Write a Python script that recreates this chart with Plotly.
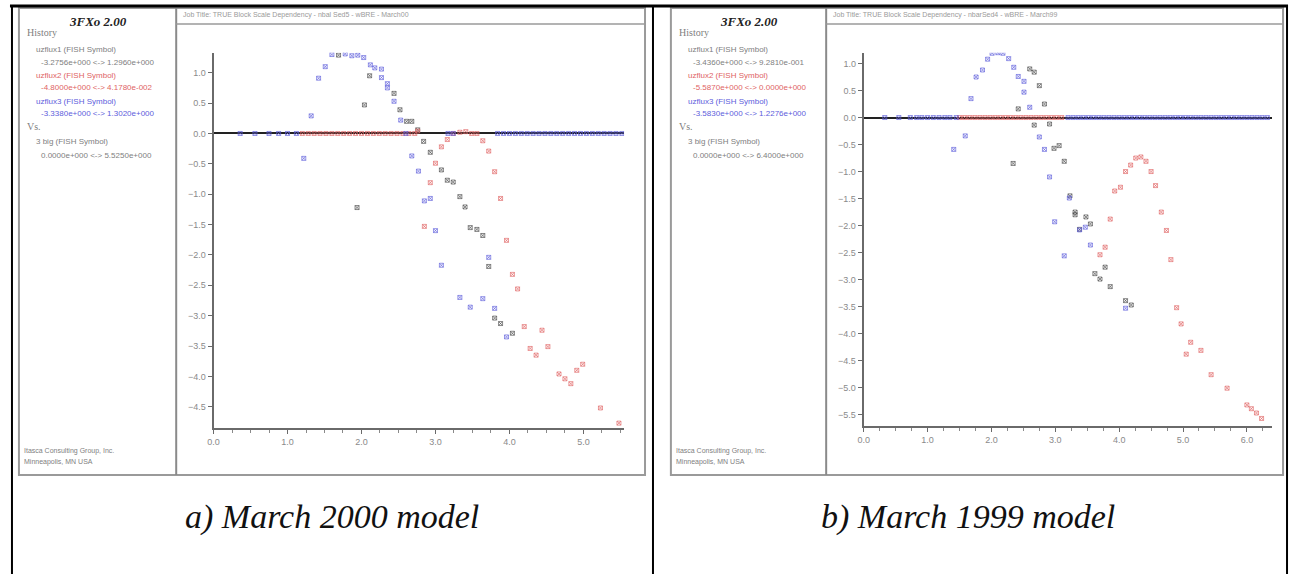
import plotly.graph_objects as go

W, H = 1292, 574

# ---------------- data: panel a) March 2000 model ----------------
a_flux1_x = [1.69, 1.94, 2.04, 2.11, 2.44, 2.52, 2.61, 2.68, 2.76, 2.84, 2.93, 3.08, 3.16, 3.24,
             3.33, 3.40, 3.47, 3.56, 3.64, 3.72, 3.80, 3.88, 4.04]
a_flux1_y = [1.29, -1.22, 0.47, 0.95, 0.66, 0.39, 0.20, 0.20, 0.06, -0.13, -0.31, -0.60, -0.77, -0.80,
             -1.04, -1.21, -1.55, -1.58, -1.68, -2.19, -3.04, -3.13, -3.29]

a_flux2_x = [1.20, 1.28, 1.36, 1.44, 1.52, 1.60, 1.68, 1.76, 1.84, 1.92, 2.00, 2.08, 2.16, 2.24,
             2.32, 2.40, 2.48, 2.56, 2.64, 2.72, 2.76, 2.85, 2.93, 3.00, 3.08, 3.16, 3.24, 3.33,
             3.41, 3.49, 3.56, 3.64, 3.72, 3.80, 3.88, 3.96, 4.04, 4.11, 4.20, 4.28, 4.36, 4.44,
             4.52, 4.67, 4.75, 4.83, 4.91, 4.99, 5.23, 5.48]
a_flux2_y = [0.0, 0.0, 0.0, 0.0, 0.0, 0.0, 0.0, 0.0, 0.0, 0.0, 0.0, 0.0, 0.0, 0.0,
             0.0, 0.0, 0.0, 0.0, 0.0, 0.0, 0.04, -1.53, -0.81, -0.49, -0.22, -0.10, 0.0, 0.02,
             0.03, 0.0, 0.0, -0.12, -0.29, -0.63, -1.07, -1.76, -2.32, -2.56, -3.18, -3.54, -3.65, -3.24,
             -3.51, -3.96, -4.04, -4.12, -3.90, -3.80, -4.52, -4.77]

a_flux3_x = [0.36, 0.56, 0.75, 0.88, 1.00, 1.12, 1.22, 1.32, 1.42, 1.51, 1.60, 1.78, 1.87, 1.95,
             2.03, 2.12, 2.18, 2.27, 2.27, 2.35, 2.35, 2.44, 2.53, 2.60, 2.68, 2.77, 2.85, 2.93,
             3.00, 3.08, 3.17, 3.24, 3.33, 3.47, 3.64, 3.72, 3.80, 3.96,
             3.84, 3.92, 4.00, 4.08, 4.16, 4.24, 4.32, 4.40, 4.48, 4.56, 4.64, 4.72, 4.80, 4.88,
             4.96, 5.04, 5.12, 5.20, 5.28, 5.36, 5.44, 5.52]
a_flux3_y = [0.0, 0.0, 0.0, 0.0, 0.0, 0.0, -0.41, 0.29, 0.91, 1.10, 1.30, 1.31, 1.28, 1.29,
             1.25, 1.13, 1.08, 1.06, 0.92, 0.82, 0.75, 0.53, 0.22, 0.0, -0.37, -0.62, -1.11, -1.07,
             -1.60, -2.17, 0.0, 0.0, -2.70, -2.86, -2.72, -2.04, -2.88, -3.35,
             0.0, 0.0, 0.0, 0.0, 0.0, 0.0, 0.0, 0.0, 0.0, 0.0, 0.0, 0.0, 0.0, 0.0,
             0.0, 0.0, 0.0, 0.0, 0.0, 0.0, 0.0, 0.0]

# ---------------- data: panel b) March 1999 model ----------------
b_flux1_x = [2.34, 2.42, 2.60, 2.67, 2.67, 2.75, 2.83, 2.91, 2.98, 3.06, 3.14, 3.23, 3.31, 3.31,
             3.38, 3.48, 3.55, 3.62, 3.70, 3.78, 3.86, 4.10, 4.19]
b_flux1_y = [-0.85, 0.16, 0.90, 0.84, -0.14, 0.59, 0.25, -0.12, -0.57, -0.52, -0.81, -1.45, -1.75, -1.80,
             -2.07, -1.84, -1.97, -2.89, -2.99, -2.77, -3.13, -3.39, -3.47]

b_flux2_x = [1.50, 1.58, 1.66, 1.74, 1.82, 1.90, 1.98, 2.06, 2.14, 2.22, 2.30, 2.38, 2.46, 2.54,
             2.62, 2.70, 2.78, 2.86, 2.94, 3.02, 3.10,
             3.70, 3.78, 3.86, 3.93, 4.02, 4.10, 4.18, 4.26, 4.34, 4.42, 4.50, 4.57, 4.66, 4.74,
             4.81, 4.90, 4.97, 5.05, 5.12, 5.28, 5.44, 5.69, 6.00, 6.07, 6.15, 6.23]
b_flux2_y = [0.0, 0.0, 0.0, 0.0, 0.0, 0.0, 0.0, 0.0, 0.0, 0.0, 0.0, 0.0, 0.0, 0.0,
             0.0, 0.0, 0.0, 0.0, 0.0, 0.0, 0.0,
             -2.54, -2.40, -1.88, -1.36, -1.29, -1.00, -0.88, -0.75, -0.73, -0.81, -1.00, -1.26, -1.75, -2.09,
             -2.63, -3.52, -3.82, -4.38, -4.16, -4.31, -4.76, -5.01, -5.32, -5.39, -5.47, -5.57]

b_flux3_x = [0.33, 0.55, 0.73, 0.83, 0.91, 1.00, 1.09, 1.18, 1.27, 1.35, 1.45, 1.41, 1.59, 1.68,
             1.76, 1.86, 1.94, 2.01, 2.10, 2.18, 2.27, 2.35, 2.42, 2.51, 2.51, 2.60, 2.75, 2.83,
             2.91, 2.99, 3.14, 3.22, 3.38, 3.47, 3.55, 4.10,
             3.20, 3.28, 3.36, 3.44, 3.52, 3.60, 3.68, 3.76, 3.84, 3.92, 4.00, 4.08, 4.16,
             4.24, 4.32, 4.40, 4.48, 4.56, 4.64, 4.72, 4.80, 4.88, 4.96, 5.04, 5.12, 5.20,
             5.28, 5.36, 5.44, 5.52, 5.60, 5.68, 5.76, 5.84, 5.92, 6.00, 6.08, 6.16, 6.24, 6.32]
b_flux3_y = [0.0, 0.0, 0.0, 0.0, 0.0, 0.0, 0.0, 0.0, 0.0, 0.0, 0.0, -0.59, -0.34, 0.35,
             0.75, 0.88, 1.08, 1.19, 1.20, 1.19, 1.09, 0.93, 0.76, 0.67, 0.47, 0.19, -0.36, -0.59,
             -1.10, -1.93, -2.56, -1.49, -2.08, -2.03, -2.36, -3.53,
             0.0, 0.0, 0.0, 0.0, 0.0, 0.0, 0.0, 0.0, 0.0, 0.0, 0.0, 0.0, 0.0,
             0.0, 0.0, 0.0, 0.0, 0.0, 0.0, 0.0, 0.0, 0.0, 0.0, 0.0, 0.0, 0.0,
             0.0, 0.0, 0.0, 0.0, 0.0, 0.0, 0.0, 0.0, 0.0, 0.0, 0.0, 0.0, 0.0, 0.0]

# sidebar legend text for each panel
a_ranges = ["-3.2756e+000 <-> 1.2960e+000", "-4.8000e+000 <-> 4.1780e-002",
            "-3.3380e+000 <-> 1.3020e+000", "0.0000e+000 <-> 5.5250e+000"]
b_ranges = ["-3.4360e+000 <-> 9.2810e-001", "-5.5870e+000 <-> 0.0000e+000",
            "-3.5830e+000 <-> 1.2276e+000", "0.0000e+000 <-> 6.4000e+000"]
series_names = ["uzflux1 (FISH Symbol)", "uzflux2 (FISH Symbol)", "uzflux3 (FISH Symbol)",
                "3 big (FISH Symbol)"]
a_title = "Job Title: TRUE Block Scale Dependency - nbal Sed5 - wBRE - March00"
b_title = "Job Title: TRUE Block Scale Dependency - nbarSed4 - wBRE - March99"
captions = ["a) March 2000 model", "b) March 1999 model"]

C_BLACK, C_RED, C_BLUE = "#4a4a4a", "#e06464", "#6060dc"
TXT_GRAY = "#808080"


def fx(px):
    return px / W


def fy(py):
    return 1 - py / H


fig = go.Figure()

# panel geometry (pixels): frame left, sidebar divider, plot x0/x1, plot y0/y1, frame right
panels = [
    dict(left=13, side=171, x0=208.5, x1=621, y0=52.7, y1=428, right=642,
         xr=[0, 5.55], yr=[-4.85, 1.33], ydt=0.5, ax="x", ay="y",
         data=[(a_flux1_x, a_flux1_y, C_BLACK), (a_flux2_x, a_flux2_y, C_RED),
               (a_flux3_x, a_flux3_y, C_BLUE)],
         ranges=a_ranges, title=a_title, cap=captions[0], capx=328),
    dict(left=668, side=824, x0=861.7, x1=1271.7, y0=52.7, y1=426, right=1283,
         xr=[0, 6.39], yr=[-5.71, 1.2], ydt=0.5, ax="x2", ay="y2",
         data=[(b_flux1_x, b_flux1_y, C_BLACK), (b_flux2_x, b_flux2_y, C_RED),
               (b_flux3_x, b_flux3_y, C_BLUE)],
         ranges=b_ranges, title=b_title, cap=captions[1], capx=966),
]

shapes = []
annotations = []
layout_axes = {}
PANEL_BOTTOM = 475

for i, p in enumerate(panels):
    xa = "xaxis" if i == 0 else "xaxis2"
    ya = "yaxis" if i == 0 else "yaxis2"
    layout_axes[xa] = dict(
        domain=[fx(p["x0"]), fx(p["x1"])], range=p["xr"], anchor=p["ay"],
        showline=True, linecolor="#6a6a6a", linewidth=2, showgrid=False, zeroline=False,
        ticks="outside", ticklen=4, tickcolor="#6a6a6a", dtick=1, tick0=0, tickformat=".1f",
        tickfont=dict(family="Liberation Sans", size=9, color="#8a8a8a"),
        minor=dict(dtick=0.25, tick0=0, ticks="outside", ticklen=3, tickcolor="#8a8a8a"),
    )
    layout_axes[ya] = dict(
        domain=[fy(p["y1"]), fy(p["y0"])], range=p["yr"], anchor=p["ax"],
        showline=True, linecolor="#6a6a6a", linewidth=2, showgrid=False,
        zeroline=True, zerolinecolor="#222222", zerolinewidth=1.5,
        ticks="outside", ticklen=4, tickcolor="#6a6a6a", dtick=p["ydt"], tick0=0,
        tickformat=".1f", tickfont=dict(family="Liberation Sans", size=9, color="#8a8a8a"),
    )
    for xs, ys, col in p["data"]:
        fig.add_trace(go.Scatter(
            x=xs, y=ys, mode="markers", xaxis=p["ax"], yaxis=p["ay"], showlegend=False,
            marker=dict(symbol="square-x-open", size=4, color=col, opacity=0.65,
                        line=dict(width=1, color=col)),
        ))

    # window frame, sidebar divider and header rule
    shapes.append(dict(type="rect", xref="paper", yref="paper",
                       x0=fx(p["left"]), x1=fx(p["right"]), y0=fy(PANEL_BOTTOM), y1=fy(8),
                       line=dict(color="#9a9a9a", width=2)))
    shapes.append(dict(type="line", xref="paper", yref="paper",
                       x0=fx(p["side"]), x1=fx(p["side"]), y0=fy(PANEL_BOTTOM), y1=fy(8),
                       line=dict(color="#8a8a8a", width=2)))
    shapes.append(dict(type="line", xref="paper", yref="paper",
                       x0=fx(p["side"]), x1=fx(p["right"]), y0=fy(24), y1=fy(24),
                       line=dict(color="#9a9a9a", width=1.5)))

    L = p["left"]
    cx = (p["left"] + p["side"]) / 2

    def txt(x, y, s, color=TXT_GRAY, size=8, family="Liberation Sans", anchor="left"):
        annotations.append(dict(xref="paper", yref="paper", x=fx(x), y=fy(y), text=s,
                                showarrow=False, xanchor=anchor, yanchor="middle",
                                font=dict(family=family, size=size, color=color)))

    txt(cx, 21, "<b><i>3FXo 2.00</i></b>", color="#222222", size=13,
        family="Liberation Serif", anchor="center")
    txt(L + 6, 33, "History", size=10, family="Liberation Serif")
    cols = [TXT_GRAY, C_RED, C_BLUE]
    for k in range(3):
        txt(L + 15, 50 + 25.5 * k, series_names[k], color=cols[k])
        txt(L + 20, 62.5 + 25.5 * k, p["ranges"][k], color=cols[k])
    txt(L + 6, 127, "Vs.", size=10, family="Liberation Serif")
    txt(L + 15, 142, series_names[3])
    txt(L + 20, 155, p["ranges"][3])
    txt(L + 3, 451, "Itasca Consulting Group, Inc.", size=7)
    txt(L + 3, 462, "Minneapolis, MN USA", size=7)
    txt(p["side"] + 5, 15, p["title"], size=7, color="#9a9a9a")

    # caption under each panel
    annotations.append(dict(xref="paper", yref="paper", x=fx(p["capx"]), y=fy(517),
                            text="<i>" + p["cap"] + "</i>", showarrow=False,
                            xanchor="center", yanchor="middle",
                            font=dict(family="Liberation Serif", size=34, color="#111111")))

# table borders around the two panels
shapes.append(dict(type="line", xref="paper", yref="paper", x0=fx(4), x1=fx(1288),
                   y0=fy(6), y1=fy(6), line=dict(color="#000000", width=3)))
for xv in (6, 650, 1287):
    shapes.append(dict(type="line", xref="paper", yref="paper", x0=fx(xv), x1=fx(xv),
                       y0=fy(574), y1=fy(5), line=dict(color="#000000", width=2)))

fig.update_layout(
    width=W, height=H, margin=dict(l=0, r=0, t=0, b=0),
    paper_bgcolor="white", plot_bgcolor="white",
    shapes=shapes, annotations=annotations, **layout_axes,
)

fig.write_html("out.html")
